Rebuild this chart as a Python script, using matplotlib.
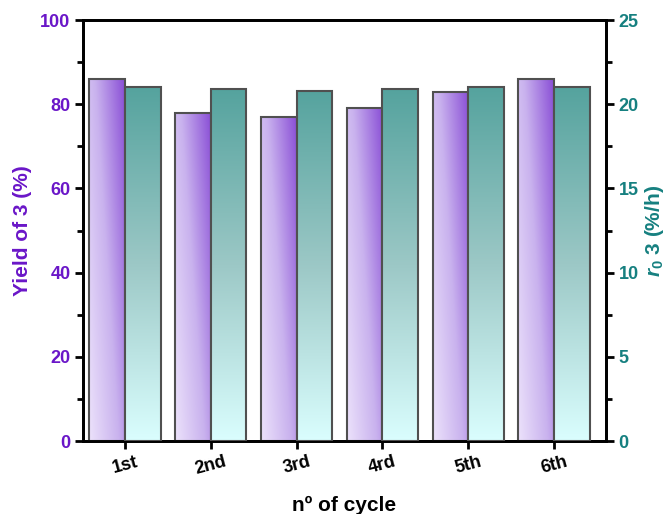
import matplotlib
matplotlib.use('Agg')
import matplotlib.pyplot as plt
import numpy as np
from matplotlib.colors import LinearSegmentedColormap
from matplotlib.ticker import MultipleLocator

plt.rcParams['font.family'] = ['Liberation Sans', 'DejaVu Sans']
plt.rcParams['font.weight'] = 'bold'
plt.rcParams['mathtext.fontset'] = 'custom'
plt.rcParams['mathtext.it'] = 'Liberation Sans:italic:bold'
plt.rcParams['mathtext.rm'] = 'Liberation Sans:bold'

cycles = ['1st', '2nd', '3rd', '4rd', '5th', '6th']
yield_3 = [86, 78, 77, 79, 83, 86]
r0_3 = [21.0, 20.9, 20.8, 20.9, 21.0, 21.0]

purple = '#6a16c8'
teal = '#168080'

purple_cmap = LinearSegmentedColormap.from_list('pu', ['#ece2fb', '#c9b2ee', '#8a4fd6'])
teal_cmap = LinearSegmentedColormap.from_list('te', ['#dafefe', '#9cc8c6', '#55a39e'])

fig = plt.figure(figsize=(6.7, 5.14), dpi=100)
ax = fig.add_axes([0.1239, 0.142, 0.7806, 0.819])
ax2 = ax.twinx()

x = np.arange(len(cycles))
w = 0.415

bars1 = ax.bar(x - w / 2, yield_3, w, color='none', edgecolor='#505050', linewidth=1.5, zorder=3)
bars2 = ax2.bar(x + w / 2, r0_3, w, color='none', edgecolor='#505050', linewidth=1.5, zorder=3)

# diagonal gradient for the yield bars
gx, gy = np.meshgrid(np.linspace(0, 1, 64), np.linspace(0, 1, 128))
grad_p = 0.6 * gx + 0.4 * gy
for b in bars1:
    x0, y0 = b.get_x(), b.get_y()
    im = ax.imshow(grad_p, cmap=purple_cmap, origin='lower', aspect='auto',
                   extent=[x0, x0 + b.get_width(), y0, y0 + b.get_height()], zorder=2)
    im.set_clip_path(b)

# vertical gradient for the rate bars
grad_t = np.linspace(0, 1, 256).reshape(-1, 1)
for b in bars2:
    x0, y0 = b.get_x(), b.get_y()
    im = ax2.imshow(grad_t, cmap=teal_cmap, origin='lower', aspect='auto',
                    extent=[x0, x0 + b.get_width(), y0, y0 + b.get_height()], zorder=2)
    im.set_clip_path(b)

ax.set_xlim(-0.49, 5.605)
ax.set_ylim(0, 100)
ax2.set_ylim(0, 25)

ax.set_xticks(x)
ax.set_xticklabels(cycles, rotation=15, fontsize=13, fontweight='bold')
ax.yaxis.set_major_locator(MultipleLocator(20))
ax.yaxis.set_minor_locator(MultipleLocator(10))
ax2.yaxis.set_major_locator(MultipleLocator(5))
ax2.yaxis.set_minor_locator(MultipleLocator(2.5))

for spine in list(ax.spines.values()) + list(ax2.spines.values()):
    spine.set_linewidth(2)

ax.tick_params(axis='both', which='major', direction='out', length=6, width=2, pad=3)
ax.tick_params(axis='y', which='minor', direction='out', length=4, width=2)
ax.tick_params(axis='y', labelcolor=purple, labelsize=13)
ax2.tick_params(axis='y', which='major', direction='out', length=6, width=2, pad=3,
                labelsize=13, labelcolor=teal)
ax2.tick_params(axis='y', which='minor', direction='out', length=4, width=2)
for lab in ax.get_yticklabels() + ax2.get_yticklabels():
    lab.set_fontweight('bold')

ax.set_ylabel('Yield of 3 (%)', color=purple, fontsize=15, fontweight='bold', labelpad=6)
ax2.set_ylabel(r'$r_0$ 3 (%/h)', color=teal, fontsize=15, fontweight='bold', labelpad=3)
ax.set_xlabel('nº of cycle', fontsize=15, fontweight='bold', labelpad=13)

fig.savefig('out.png', dpi=100)
